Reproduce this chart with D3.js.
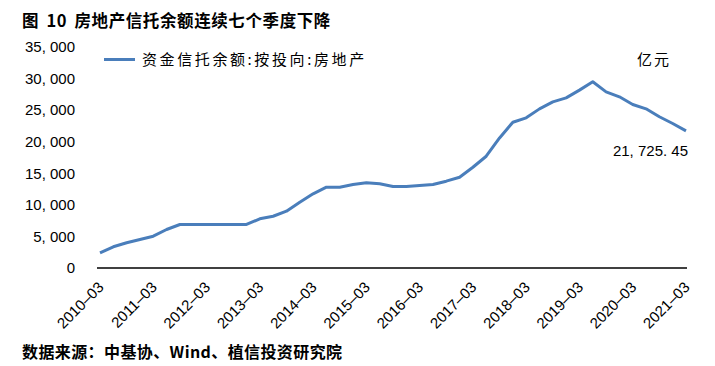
<!DOCTYPE html>
<html><head><meta charset="utf-8">
<script src="https://cdn.jsdelivr.net/npm/d3@7"></script>
<style>body{margin:0;background:#fff}svg{display:block}</style>
</head><body>
<svg id="c" width="715" height="366"></svg>
<script>
const quarters = [];
for (let y = 2010; y <= 2021; y++) for (const m of ["03","06","09","12"]) { if (y === 2021 && m !== "03") continue; quarters.push(y + "-" + m); }
const values = [2400,3360,3990,4510,5040,6100,6890,6890,6890,6890,6890,6890,
  7790,8200,9000,10420,11750,12800,12800,13220,13490,13330,12900,12900,
  13060,13220,13750,14380,15960,17700,20600,23090,23780,25200,26310,26950,
  28170,29490,27900,27110,25900,25210,23950,22890,21725.45];
const yTicks = [0,5000,10000,15000,20000,25000,30000,35000];
const title = "图 10 房地产信托余额连续七个季度下降";
const source = "数据来源：中基协、Wind、植信投资研究院";
const seriesName = "资金信托余额:按投向:房地产";
const unit = "亿元";

const svg = d3.select("#c");
const x = d3.scalePoint().domain(quarters).range([100, 686]);
const y = d3.scaleLinear().domain([0, 35000]).range([268, 47]);
const fmt = v => d3.format(",")(v).replace(/,/g, ", ");
const cjk = "'Noto Sans CJK SC', sans-serif";
const lat = "'Liberation Sans', Arial, sans-serif";

svg.append("text").attr("x", 22).attr("y", 27).attr("font-family", cjk).attr("font-weight", "bold")
  .attr("font-size", 16.5).attr("letter-spacing", 0.6).attr("word-spacing", 3).text(title);
svg.append("text").attr("x", 22).attr("y", 358).attr("font-family", cjk).attr("font-weight", "bold")
  .attr("font-size", 16).attr("letter-spacing", 0.4).text(source);

// y axis labels
const ya = svg.append("g").attr("transform", "translate(75,0)")
  .call(d3.axisLeft(y).tickValues(yTicks).tickSize(0).tickPadding(0).tickFormat(fmt));
ya.select(".domain").remove();
ya.selectAll("text").attr("font-family", lat).attr("font-size", 15).attr("fill", "#000");

// x axis
const xa = svg.append("g").attr("transform", "translate(0,268)")
  .call(d3.axisBottom(x).tickValues(quarters.filter((d, i) => i % 4 === 0)).tickSize(0).tickFormat(d => d.replace("-", "–")));
xa.select(".domain").attr("d", "M97,0H687").attr("stroke", "#000").attr("stroke-width", 1.3);
xa.selectAll("text").attr("font-family", lat).attr("font-size", 15).attr("fill", "#000")
  .attr("text-anchor", "end").attr("dy", 0)
  .attr("transform", "translate(2,18) rotate(-45)");

// line
svg.append("path").datum(values)
  .attr("fill", "none").attr("stroke", "#4a7ebb").attr("stroke-width", 3)
  .attr("stroke-linejoin", "round")
  .attr("d", d3.line().x((d, i) => x(quarters[i])).y(d => y(d)));

// legend
svg.append("line").attr("x1", 104).attr("x2", 135).attr("y1", 59.5).attr("y2", 59.5)
  .attr("stroke", "#4a7ebb").attr("stroke-width", 3);
svg.append("text").attr("x", 142).attr("y", 65).attr("font-family", cjk).attr("font-size", 15)
  .attr("letter-spacing", 2.6).text(seriesName);

svg.append("text").attr("x", 637).attr("y", 65).attr("font-family", cjk).attr("font-size", 15)
  .attr("letter-spacing", 2).text(unit);

// data label
const last = values[values.length - 1];
svg.append("text").attr("x", 688).attr("y", 156).attr("text-anchor", "end")
  .attr("font-family", lat).attr("font-size", 15).text(d3.format(",.2f")(last).replace(/,/g, ", ").replace(".", ". "));
</script>
</body></html>
